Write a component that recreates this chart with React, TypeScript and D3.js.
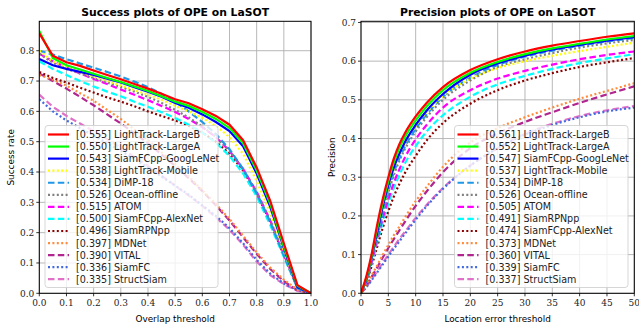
import React, { useEffect, useRef } from 'react'
import * as d3 from 'd3'

// ---- data ----
const overlapThresholds = [0, 0.05, 0.1, 0.15, 0.2, 0.25, 0.3, 0.35, 0.4, 0.45, 0.5, 0.55, 0.6, 0.65, 0.7, 0.75, 0.8, 0.85, 0.9, 0.95, 1.0]
const errorThresholds = [0, 1, 2, 3, 4, 5, 6, 7, 8, 10, 12, 15, 20, 25, 30, 35, 40, 45, 50]

const successNames = ['LightTrack-LargeB', 'LightTrack-LargeA', 'SiamFCpp-GoogLeNet', 'LightTrack-Mobile', 'DiMP-18', 'Ocean-offline', 'ATOM', 'SiamFCpp-AlexNet', 'SiamRPNpp', 'MDNet', 'VITAL', 'SiamFC', 'StructSiam']
const successScores = ['0.555', '0.550', '0.543', '0.538', '0.534', '0.526', '0.515', '0.500', '0.496', '0.397', '0.390', '0.336', '0.335']
const successValues = [
  [0.857, 0.783, 0.762, 0.75, 0.735, 0.72, 0.706, 0.69, 0.675, 0.658, 0.64, 0.627, 0.607, 0.585, 0.556, 0.505, 0.415, 0.305, 0.165, 0.027, 0],
  [0.865, 0.775, 0.752, 0.738, 0.724, 0.71, 0.697, 0.682, 0.667, 0.65, 0.632, 0.618, 0.598, 0.575, 0.545, 0.495, 0.405, 0.295, 0.155, 0.025, 0],
  [0.773, 0.752, 0.74, 0.73, 0.72, 0.708, 0.695, 0.68, 0.665, 0.648, 0.628, 0.612, 0.59, 0.565, 0.535, 0.485, 0.395, 0.285, 0.15, 0.02, 0],
  [0.8, 0.765, 0.745, 0.73, 0.715, 0.7, 0.685, 0.67, 0.655, 0.638, 0.618, 0.6, 0.578, 0.552, 0.515, 0.46, 0.37, 0.265, 0.14, 0.02, 0],
  [0.8, 0.787, 0.772, 0.758, 0.744, 0.73, 0.715, 0.698, 0.68, 0.658, 0.632, 0.6, 0.565, 0.525, 0.475, 0.41, 0.33, 0.235, 0.125, 0.018, 0],
  [0.79, 0.76, 0.74, 0.725, 0.71, 0.695, 0.68, 0.665, 0.648, 0.628, 0.605, 0.58, 0.55, 0.515, 0.47, 0.41, 0.33, 0.24, 0.13, 0.02, 0],
  [0.79, 0.765, 0.745, 0.725, 0.707, 0.69, 0.672, 0.655, 0.637, 0.618, 0.598, 0.575, 0.548, 0.515, 0.47, 0.41, 0.335, 0.24, 0.13, 0.02, 0],
  [0.765, 0.74, 0.72, 0.7, 0.682, 0.665, 0.65, 0.632, 0.615, 0.597, 0.578, 0.556, 0.53, 0.497, 0.453, 0.395, 0.32, 0.225, 0.12, 0.018, 0],
  [0.73, 0.71, 0.695, 0.678, 0.662, 0.646, 0.632, 0.617, 0.6, 0.585, 0.57, 0.552, 0.53, 0.5, 0.46, 0.405, 0.33, 0.235, 0.125, 0.018, 0],
  [0.72, 0.705, 0.685, 0.66, 0.635, 0.605, 0.575, 0.54, 0.505, 0.465, 0.425, 0.385, 0.34, 0.295, 0.245, 0.19, 0.135, 0.085, 0.045, 0.012, 0],
  [0.725, 0.7, 0.675, 0.648, 0.62, 0.59, 0.56, 0.528, 0.495, 0.458, 0.42, 0.38, 0.337, 0.29, 0.24, 0.185, 0.13, 0.08, 0.04, 0.01, 0],
  [0.64, 0.6, 0.57, 0.545, 0.52, 0.495, 0.47, 0.443, 0.415, 0.385, 0.355, 0.325, 0.29, 0.255, 0.215, 0.165, 0.11, 0.065, 0.032, 0.01, 0],
  [0.655, 0.615, 0.585, 0.56, 0.535, 0.508, 0.48, 0.45, 0.42, 0.388, 0.355, 0.322, 0.288, 0.25, 0.21, 0.16, 0.105, 0.06, 0.03, 0.008, 0],
]

const precisionNames = ['LightTrack-LargeB', 'LightTrack-LargeA', 'SiamFCpp-GoogLeNet', 'LightTrack-Mobile', 'DiMP-18', 'Ocean-offline', 'ATOM', 'SiamRPNpp', 'SiamFCpp-AlexNet', 'MDNet', 'VITAL', 'SiamFC', 'StructSiam']
const precisionScores = ['0.561', '0.552', '0.547', '0.537', '0.534', '0.526', '0.505', '0.491', '0.474', '0.373', '0.360', '0.339', '0.337']
const precisionValues = [
  [0, 0.045, 0.105, 0.18, 0.245, 0.3, 0.348, 0.385, 0.413, 0.457, 0.492, 0.533, 0.577, 0.605, 0.625, 0.64, 0.652, 0.663, 0.672],
  [0, 0.04, 0.1, 0.17, 0.235, 0.29, 0.338, 0.375, 0.403, 0.447, 0.483, 0.525, 0.57, 0.598, 0.618, 0.633, 0.645, 0.656, 0.665],
  [0, 0.038, 0.095, 0.16, 0.225, 0.28, 0.325, 0.36, 0.39, 0.435, 0.472, 0.515, 0.565, 0.594, 0.614, 0.63, 0.642, 0.653, 0.662],
  [0, 0.037, 0.095, 0.16, 0.22, 0.275, 0.32, 0.357, 0.387, 0.432, 0.468, 0.51, 0.555, 0.582, 0.6, 0.614, 0.626, 0.637, 0.648],
  [0, 0.035, 0.09, 0.15, 0.21, 0.265, 0.312, 0.348, 0.378, 0.425, 0.462, 0.508, 0.557, 0.59, 0.612, 0.627, 0.64, 0.651, 0.66],
  [0, 0.034, 0.088, 0.147, 0.205, 0.26, 0.305, 0.342, 0.372, 0.418, 0.455, 0.5, 0.55, 0.585, 0.605, 0.621, 0.635, 0.646, 0.655],
  [0, 0.032, 0.083, 0.14, 0.195, 0.243, 0.285, 0.32, 0.35, 0.398, 0.435, 0.48, 0.525, 0.555, 0.575, 0.591, 0.605, 0.616, 0.625],
  [0, 0.03, 0.08, 0.133, 0.185, 0.232, 0.272, 0.305, 0.335, 0.38, 0.418, 0.46, 0.508, 0.54, 0.562, 0.58, 0.595, 0.607, 0.618],
  [0, 0.028, 0.073, 0.122, 0.17, 0.212, 0.25, 0.282, 0.31, 0.355, 0.395, 0.44, 0.49, 0.525, 0.55, 0.569, 0.585, 0.597, 0.608],
  [0, 0.022, 0.048, 0.073, 0.1, 0.125, 0.15, 0.172, 0.195, 0.238, 0.275, 0.327, 0.39, 0.427, 0.455, 0.48, 0.503, 0.523, 0.543],
  [0, 0.02, 0.044, 0.068, 0.093, 0.117, 0.14, 0.162, 0.184, 0.226, 0.263, 0.313, 0.375, 0.413, 0.443, 0.468, 0.492, 0.514, 0.535],
  [0, 0.016, 0.035, 0.055, 0.075, 0.095, 0.115, 0.134, 0.153, 0.19, 0.225, 0.27, 0.33, 0.375, 0.41, 0.435, 0.455, 0.47, 0.48],
  [0, 0.017, 0.037, 0.058, 0.079, 0.1, 0.12, 0.14, 0.158, 0.195, 0.228, 0.272, 0.33, 0.375, 0.412, 0.438, 0.458, 0.473, 0.484],
]

const successTicksX = [0, 0.1, 0.2, 0.3, 0.4, 0.5, 0.6, 0.7, 0.8, 0.9, 1.0]
const successTicksY = [0, 0.1, 0.2, 0.3, 0.4, 0.5, 0.6, 0.7, 0.8]
const precisionTicksX = [0, 5, 10, 15, 20, 25, 30, 35, 40, 45, 50]
const precisionTicksY = [0, 0.1, 0.2, 0.3, 0.4, 0.5, 0.6, 0.7]

// style per rank
const rankColors = ['#ff0000', '#00ff00', '#0000ff', '#ffff00', '#1f96e6', '#808080', '#ff00ff', '#00ffff', '#8b0000', '#ff8c3c', '#b0258e', '#4169e1', '#e070c8']
const rankDash = ['', '', '', 'dot', 'dash', 'dot', 'dash', 'dash', 'dot', 'dot', 'dash', 'dot', 'dash']

const sans = 'DejaVu Sans, sans-serif'
const serif = 'DejaVu Serif, serif'

function dashArray(k: string) {
  if (k === 'dash') return '6.5,3.3'
  if (k === 'dot') return '2,2.4'
  return null
}

function drawPanel(svg: any, o: any) {
  const { left, right, top, bottom, xDomain, yDomain, xs, series, names, scores, ticksX, ticksY, fmtX, title, xLabel, yLabel, yLabelX, curve, legend } = o
  const x = d3.scaleLinear().domain(xDomain).range([left, right])
  const y = d3.scaleLinear().domain(yDomain).range([bottom, top])
  const g = svg.append('g')

  g.append('defs').append('clipPath').attr('id', 'clip-' + o.id)
    .append('rect').attr('x', left).attr('y', top).attr('width', right - left).attr('height', bottom - top)

  // grid
  ticksX.forEach((t: number) => {
    g.append('line').attr('x1', x(t)).attr('x2', x(t)).attr('y1', top).attr('y2', bottom)
      .attr('stroke', '#b0b0b0').attr('stroke-width', 0.9)
  })
  ticksY.forEach((t: number) => {
    g.append('line').attr('x1', left).attr('x2', right).attr('y1', y(t)).attr('y2', y(t))
      .attr('stroke', '#b0b0b0').attr('stroke-width', 0.9)
  })

  // curves, best on top
  const line = d3.line<number>().x((_, i) => x(xs[i])).y(d => y(d)).curve(curve)
  const lines = g.append('g').attr('clip-path', `url(#clip-${o.id})`)
  for (let i = series.length - 1; i >= 0; i--) {
    const p = lines.append('path').attr('d', line(series[i])).attr('fill', 'none')
      .attr('stroke', rankColors[i]).attr('stroke-width', 2.2)
    const da = dashArray(rankDash[i])
    if (da) p.attr('stroke-dasharray', da)
  }

  // frame
  g.append('rect').attr('x', left).attr('y', top).attr('width', right - left).attr('height', bottom - top)
    .attr('fill', 'none').attr('stroke', '#000').attr('stroke-width', 1)

  // ticks
  ticksX.forEach((t: number) => {
    g.append('line').attr('x1', x(t)).attr('x2', x(t)).attr('y1', bottom).attr('y2', bottom + 3)
      .attr('stroke', '#000').attr('stroke-width', 0.8)
    g.append('text').attr('x', x(t)).attr('y', bottom + 13).attr('text-anchor', 'middle')
      .attr('font-family', serif).attr('font-size', 9).attr('fill', '#222').text(fmtX(t))
  })
  ticksY.forEach((t: number) => {
    g.append('line').attr('x1', left - 3).attr('x2', left).attr('y1', y(t)).attr('y2', y(t))
      .attr('stroke', '#000').attr('stroke-width', 0.8)
    g.append('text').attr('x', left - 5).attr('y', y(t) + 3.3).attr('text-anchor', 'end')
      .attr('font-family', serif).attr('font-size', 9).attr('fill', '#222').text(t.toFixed(1))
  })

  // labels
  g.append('text').attr('x', (left + right) / 2).attr('y', 15.5).attr('text-anchor', 'middle')
    .attr('font-family', sans).attr('font-size', 10.8).attr('font-weight', 'bold').text(title)
  g.append('text').attr('x', (left + right) / 2).attr('y', 321.5).attr('text-anchor', 'middle')
    .attr('font-family', sans).attr('font-size', 8.9).text(xLabel)
  g.append('text').attr('transform', `translate(${yLabelX},${(top + bottom) / 2}) rotate(-90)`)
    .attr('text-anchor', 'middle').attr('font-family', sans).attr('font-size', 8.9).text(yLabel)

  // legend
  const lg = g.append('g')
  lg.append('rect').attr('x', legend.x).attr('y', legend.y).attr('width', legend.w).attr('height', legend.h)
    .attr('rx', 3).attr('fill', '#fff').attr('fill-opacity', 0.8).attr('stroke', '#cccccc').attr('stroke-width', 0.8)
  names.forEach((n: string, i: number) => {
    const yy = legend.y + 9 + i * 12.06
    const l = lg.append('line').attr('x1', legend.x + 3).attr('x2', legend.x + 24).attr('y1', yy).attr('y2', yy)
      .attr('stroke', rankColors[i]).attr('stroke-width', 2.2)
    const da = dashArray(rankDash[i])
    if (da) l.attr('stroke-dasharray', da)
    lg.append('text').attr('x', legend.x + 31).attr('y', yy + 3.5).attr('font-family', sans).attr('font-size', 9.6)
      .attr('fill', '#222').text(`[${scores[i]}] ${n}`)
  })
}

export default function App() {
  const ref = useRef<SVGSVGElement | null>(null)
  useEffect(() => {
    const svg = d3.select(ref.current)
    svg.selectAll('*').remove()
    svg.append('rect').attr('width', 639).attr('height', 325).attr('fill', '#fff')
    drawPanel(svg, {
      id: 's', left: 39.3, right: 311, top: 21.3, bottom: 293.3,
      xDomain: [0, 1], yDomain: [0, 0.897], xs: overlapThresholds, series: successValues,
      names: successNames, scores: successScores, ticksX: successTicksX, ticksY: successTicksY,
      fmtX: (t: number) => t.toFixed(1), title: 'Success plots of OPE on LaSOT', xLabel: 'Overlap threshold',
      yLabel: 'Success rate', yLabelX: 13.5, curve: d3.curveLinear,
      legend: { x: 45, y: 125.5, w: 173, h: 162 },
    })
    drawPanel(svg, {
      id: 'p', left: 361, right: 634.3, top: 21.3, bottom: 293.3,
      xDomain: [0, 50], yDomain: [0, 0.703], xs: errorThresholds, series: precisionValues,
      names: precisionNames, scores: precisionScores, ticksX: precisionTicksX, ticksY: precisionTicksY,
      fmtX: (t: number) => String(t), title: 'Precision plots of OPE on LaSOT', xLabel: 'Location error threshold',
      yLabel: 'Precision', yLabelX: 335, curve: d3.curveMonotoneX,
      legend: { x: 454.5, y: 125.5, w: 173.5, h: 162 },
    })
  }, [])
  return (
    <svg ref={ref} width={639} height={325} style={{ position: 'absolute', left: 0, top: 0, display: 'block' }} />
  )
}
